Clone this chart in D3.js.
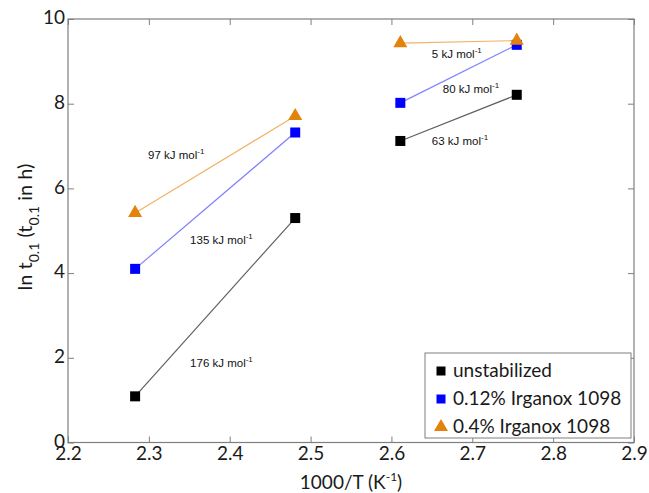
<!DOCTYPE html>
<html><head><meta charset="utf-8">
<script src="https://cdn.jsdelivr.net/npm/d3@7"></script>
<style>body{margin:0;background:#fff}</style>
</head><body><svg id="c" width="649" height="493"></svg>
<script>
// ---- data ----
const xTicks = [2.2, 2.3, 2.4, 2.5, 2.6, 2.7, 2.8, 2.9];
const yTicks = [0, 2, 4, 6, 8, 10];
const seriesNames = ["unstabilized", "0.12% Irganox 1098", "0.4% Irganox 1098"];
const invT = [2.283, 2.481, 2.611, 2.755];
const unstabilized = [1.09, 5.3, 7.12, 8.21];
const irganox012 = [4.1, 7.32, 8.02, 9.39];
const irganox04 = [5.42, 7.71, 9.43, 9.49];
const segments = [[0, 1], [2, 3]];
const energyUnstab = [176, 63];
const energy012 = [135, 80];
const energy04 = [97, 5];
// label anchors (data coordinates) for each segment's energy
const labelXUnstab = [2.351, 2.650], labelYUnstab = [1.78, 7.02];
const labelX012 = [2.351, 2.6635], labelY012 = [4.69, 8.25];
const labelX04 = [2.299, 2.650], labelY04 = [6.69, 9.08];

// ---- layout ----
const svg = d3.select("#c");
const L = 68, R = 634, T = 19, B = 442.5;
const x = d3.scaleLinear().domain([2.2, 2.9]).range([L, R]);
const y = d3.scaleLinear().domain([0, 10]).range([B, T]);
const axisColor = "#7f7f7f";
const tickFont = "Lato, 'Open Sans', sans-serif";
const textColor = "#1a1a1a";

const series = [
  {name: seriesNames[0], vals: unstabilized, e: energyUnstab, lx: labelXUnstab, ly: labelYUnstab,
   color: "#000000", line: "#606060", shape: "square"},
  {name: seriesNames[1], vals: irganox012, e: energy012, lx: labelX012, ly: labelY012,
   color: "#0000ff", line: "#8080ff", shape: "square"},
  {name: seriesNames[2], vals: irganox04, e: energy04, lx: labelX04, ly: labelY04,
   color: "#e3820c", line: "#f2b268", shape: "triangle"}
];

// frame
svg.append("rect").attr("x", L).attr("y", T).attr("width", R - L).attr("height", B - T)
  .attr("fill", "none").attr("stroke", axisColor).attr("stroke-width", 1.2);

function styleAxis(g) {
  g.select(".domain").remove();
  g.selectAll(".tick line").attr("stroke", axisColor);
  g.selectAll(".tick text").attr("fill", textColor).style("font-family", tickFont).style("font-size", "19px");
}
svg.append("g").attr("transform", `translate(0,${B})`)
  .call(d3.axisBottom(x).tickValues(xTicks).tickFormat(d3.format(".1f")).tickSizeInner(-6).tickSizeOuter(0).tickPadding(4))
  .call(styleAxis);
svg.append("g").attr("transform", `translate(0,${T})`)
  .call(d3.axisTop(x).tickValues(xTicks).tickFormat("").tickSizeInner(-6).tickSizeOuter(0))
  .call(styleAxis);
svg.append("g").attr("transform", `translate(${L},0)`)
  .call(d3.axisLeft(y).tickValues(yTicks).tickFormat(d3.format("d")).tickSizeInner(-6).tickSizeOuter(0).tickPadding(3))
  .call(styleAxis)
  .selectAll(".tick text").attr("dy", "0.25em");
svg.append("g").attr("transform", `translate(${R},0)`)
  .call(d3.axisRight(y).tickValues(yTicks).tickFormat("").tickSizeInner(-6).tickSizeOuter(0))
  .call(styleAxis);

// axis titles
const xt = svg.append("text").attr("x", (L + R) / 2).attr("y", 489).attr("text-anchor", "middle")
  .style("font-family", tickFont).style("font-size", "19px").attr("fill", textColor);
xt.append("tspan").text("1000/T (K");
xt.append("tspan").attr("dy", -8).style("font-size", "12px").text("-1");
xt.append("tspan").attr("dy", 8).text(")");

const yt = svg.append("text").attr("transform", `translate(32,227) rotate(-90)`)
  .attr("text-anchor", "middle").style("font-family", tickFont).style("font-size", "20px").attr("fill", textColor);
yt.append("tspan").text("ln t");
yt.append("tspan").attr("dy", 7).style("font-size", "14px").text("0.1");
yt.append("tspan").attr("dy", -7).text(" (t");
yt.append("tspan").attr("dy", 7).style("font-size", "14px").text("0.1");
yt.append("tspan").attr("dy", -7).text(" in h)");

// lines
series.forEach(s => {
  segments.forEach(([a, b]) => {
    svg.append("line").attr("x1", x(invT[a])).attr("y1", y(s.vals[a]))
      .attr("x2", x(invT[b])).attr("y2", y(s.vals[b]))
      .attr("stroke", s.line).attr("stroke-width", 1.2);
  });
});

// markers
function marker(g, s, cx, cy, big) {
  if (s.shape === "square") {
    const w = big ? 10 : 9;
    g.append("rect").attr("x", cx - w / 2).attr("y", cy - w / 2).attr("width", w).attr("height", w).attr("fill", s.color);
  } else {
    const sz = 85;
    g.append("path").attr("d", d3.symbol().type(d3.symbolTriangle).size(sz)())
      .attr("transform", `translate(${cx},${cy})`).attr("fill", s.color);
  }
}
series.forEach(s => {
  s.vals.forEach((v, i) => marker(svg, s, x(invT[i]), y(v), true));
});

// energy labels
series.forEach(s => {
  s.e.forEach((e, i) => {
    const t = svg.append("text").attr("x", x(s.lx[i])).attr("y", y(s.ly[i]))
      .style("font-family", "Arial, 'Liberation Sans', sans-serif").style("font-size", "11.5px").attr("fill", "#111");
    t.append("tspan").text(`${e} kJ mol`);
    t.append("tspan").attr("dy", -5).style("font-size", "8px").text("-1");
  });
});

// legend
const lg = svg.append("g");
lg.append("rect").attr("x", 425).attr("y", 353).attr("width", 206).attr("height", 85)
  .attr("fill", "#fff").attr("stroke", axisColor).attr("stroke-width", 1);
series.forEach((s, i) => {
  const cy = 371 + i * 28;
  marker(lg, s, 441, cy, false);
  lg.append("text").attr("x", 453).attr("y", cy + 6).text(s.name)
    .style("font-family", tickFont).style("font-size", "19px").attr("fill", textColor);
});
</script></body></html>
